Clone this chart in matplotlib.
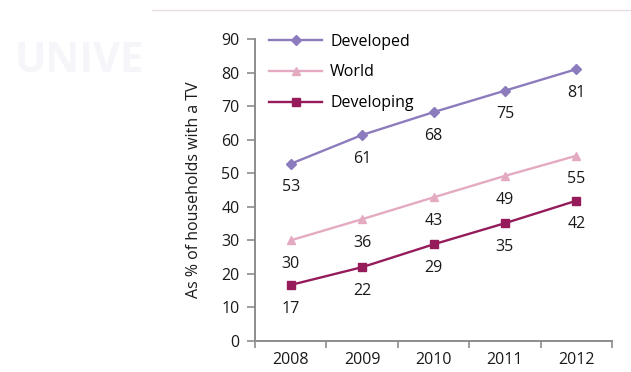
import matplotlib
matplotlib.use("Agg")
import matplotlib.pyplot as plt
from matplotlib.lines import Line2D

years = ["2008", "2009", "2010", "2011", "2012"]
developed = [52.8, 61.4, 68.2, 74.6, 81.0]
world = [30.0, 36.3, 42.8, 49.2, 55.2]
developing = [16.7, 22.0, 28.8, 35.1, 41.8]
dev_labels = ["53", "61", "68", "75", "81"]
world_labels = ["30", "36", "43", "49", "55"]
devg_labels = ["17", "22", "29", "35", "42"]
yticks = [0, 10, 20, 30, 40, 50, 60, 70, 80, 90]

plt.rcParams['font.family'] = ['Open Sans', 'DejaVu Sans']
FS = 11.5

fig = plt.figure(figsize=(6.31, 3.72), dpi=100)
fig.patch.set_facecolor("white")

# decorative top line and watermark
fig.add_artist(Line2D([152/631, 1.0], [1 - 10/372, 1 - 10/372], color="#e6dde3", lw=1))
fig.text(15/631, 1 - 62/372, "UNIVE", fontsize=30, fontweight="bold", color="#f5f5fa",
         va="center", ha="left")

ax = fig.add_axes([255/631, 1 - 341/372, (612-255)/631, (341-39)/372])
x = list(range(len(years)))

c_dev = "#8d7cbd"
c_world = "#e4aac1"
c_devg = "#951b5b"

ax.plot(x, developed, color=c_dev, lw=1.7, marker="D", ms=5, label="Developed")
ax.plot(x, world, color=c_world, lw=1.7, marker="^", ms=6, label="World")
ax.plot(x, developing, color=c_devg, lw=1.7, marker="s", ms=6, label="Developing")

for vals, labs in [(developed, dev_labels), (world, world_labels), (developing, devg_labels)]:
    for xi, v, l in zip(x, vals, labs):
        ax.annotate(l, (xi, v), xytext=(0, -17), textcoords="offset points",
                    ha="center", va="center", fontsize=FS, color="#1a1a1a")

ax.set_xlim(-0.5, len(years) - 0.5)
ax.set_ylim(0, 90)
ax.set_yticks(yticks)
ax.set_xticks(x)
ax.set_xticklabels(years)
ax.set_xticks([i - 0.5 for i in range(len(years) + 1)], minor=True)
ax.tick_params(axis="x", which="major", length=0, pad=8, labelsize=FS, labelcolor="#1a1a1a")
ax.tick_params(axis="x", which="minor", length=5, color="#8c8c8c", width=1.2)
ax.tick_params(axis="y", length=6, color="#8c8c8c", width=1.2, labelsize=FS, pad=5,
               labelcolor="#1a1a1a")

for s in ["top", "right"]:
    ax.spines[s].set_visible(False)
for s in ["left", "bottom"]:
    ax.spines[s].set_color("#8c8c8c")
    ax.spines[s].set_linewidth(1.4)

ax.set_ylabel("As % of households with a TV", fontsize=FS, labelpad=14, color="#1a1a1a")

leg = ax.legend(loc="upper left", bbox_to_anchor=(0.0, 1.065), frameon=False,
                fontsize=FS, handlelength=3.3, labelspacing=0.92, handletextpad=0.5)

fig.savefig("out.png", dpi=100, facecolor="white")
